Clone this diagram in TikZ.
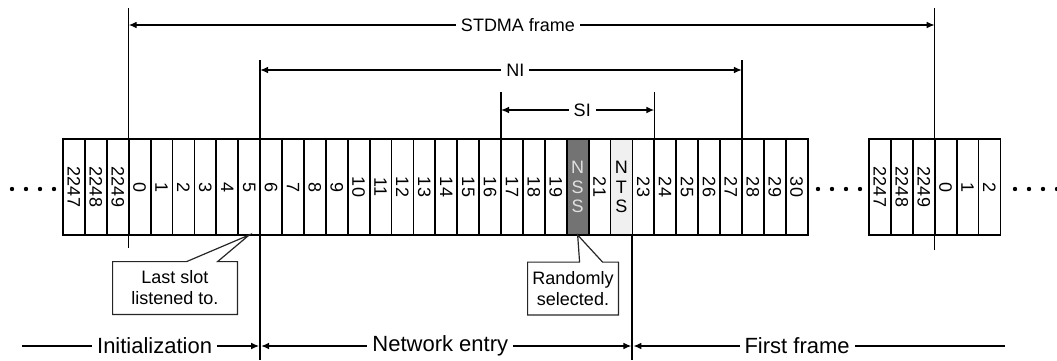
\documentclass[tikz,border=0pt]{standalone}
\usepackage{fontspec}
\setmainfont{Liberation Sans}
\usetikzlibrary{arrows.meta,positioning}

\begin{document}
\begin{tikzpicture}[x=0.5pt,y=-0.5pt,>={Latex[length=4pt,width=3.4pt]}]
  \tikzstyle{slot}=[draw,line width=0.9pt,outer sep=0pt,inner sep=0pt,minimum width=10.95pt,minimum height=48pt,font=\fontsize{9}{9.6}\selectfont]
  \tikzstyle{dim}=[line width=0.7pt]
  \tikzstyle{lab}=[fill=white,inner sep=2.5pt,font=\fontsize{9}{10}\selectfont]
  \tikzstyle{phase}=[fill=white,inner sep=2.5pt,font=\fontsize{11}{12}\selectfont]
  \tikzstyle{note}=[align=center,inner sep=0pt,minimum height=26pt,font=\fontsize{9}{10.5}\selectfont]
  \tikzstyle{notebox}=[line width=0.6pt,draw=black!85]
  \useasboundingbox (0,0) rectangle (1057,360);

  \foreach \n [count=\i from 0] in {2247,2248,2249}
    \node[slot] (a\n) at ({63+21.9*\i+10.95},187) {\rotatebox{-90}{\n}};
  \foreach \n in {0,...,19}
    \node[slot] (a\n) at ({63+21.9*(\n+3)+10.95},187) {\rotatebox{-90}{\n}};
  \foreach \n in {21,23,24,25,26,27,28,29,30}
    \node[slot] (a\n) at ({63+21.9*(\n+3)+10.95},187) {\rotatebox{-90}{\n}};
  \node[slot,fill=black!55,text=black!12,align=center] (a20) at ({63+21.9*23+10.95},187) {N\\S\\S};
  \node[slot,fill=black!6,align=center] (a22) at ({63+21.9*25+10.95},187) {N\\T\\S};

  \foreach \n [count=\i from 0] in {2247,2248,2249}
    \node[slot] (b\n) at ({869+21.9*\i+10.95},187) {\rotatebox{-90}{\n}};
  \foreach \n in {0,1,2}
    \node[slot] (b\n) at ({869+21.9*(\n+3)+10.95},187) {\rotatebox{-90}{\n}};

  \foreach \x in {12,26,40,54,818,832,846,860,1015,1029,1043,1057}
    \fill (\x,189) circle (1.1pt);

  % extension lines
  \draw[dim] (a0.north west |- 0,8) -- (a0.south west |- 0,248);
  \draw[dim] (b0.north west |- 0,8) -- (b0.south west |- 0,250);
  \draw[line width=1pt] (a6.north west |- 0,60) -- (a6.south west |- 0,360);
  \draw[dim] (a28.north west |- 0,60) -- (a28.north west);
  \draw[dim] (a17.north west |- 0,92) -- (a17.north west);
  \draw[dim] (a24.north west |- 0,92) -- (a24.north west);
  \draw[line width=1pt] (a23.south west) -- (a23.south west |- 0,360);

  \coordinate (frameL) at (a0.north west |- 0,25);
  \coordinate (frameR) at (b0.north west |- 0,25);
  \coordinate (niL) at (a6.north west |- 0,70);
  \coordinate (niR) at (a28.north west |- 0,70);
  \coordinate (siL) at (a17.north west |- 0,110);
  \coordinate (siR) at (a24.north west |- 0,110);
  \draw[dim,<->] (frameL) -- (frameR) node[lab,pos=0.483] {STDMA frame};
  \draw[dim,<->] (niL) -- (niR) node[lab,pos=0.53] {NI};
  \draw[dim,<->] (siL) -- (siR) node[lab,pos=0.53] {SI};

  \coordinate (initL) at (22,346);
  \coordinate (initR) at (a6.south west |- initL);
  \coordinate (entR) at (a23.south west |- initL);
  \coordinate (firstR) at (1005,346);
  \draw[dim,->,shorten >=0.5pt] (initL) -- (initR) node[phase,pos=0.557] {Initialization};
  \draw[dim,<->,shorten <=0.5pt,shorten >=0.5pt] (initR) -- (entR) node[phase,pos=0.484] {Network entry};
  \draw[dim,<-,shorten <=0.5pt] (entR) -- (firstR) node[phase,pos=0.442] {First frame};

  % callouts
  \node[note,minimum width=62pt] (last) at (175,288) {Last slot\\listened to.};
  \draw[notebox] (last.north west) -- ([xshift=37pt]last.north west) -- (a5.south)
    -- ([xshift=52.5pt]last.north west) -- (last.north east) -- (last.south east) -- (last.south west) -- cycle;
  \node[note,minimum width=45pt] (rand) at (573,288.5) {Randomly\\selected.};
  \draw[notebox] (rand.north west) -- ([xshift=26pt]rand.north west) -- (a20.south)
    -- ([xshift=37.5pt]rand.north west) -- (rand.north east) -- (rand.south east) -- (rand.south west) -- cycle;
\end{tikzpicture}
\end{document}
